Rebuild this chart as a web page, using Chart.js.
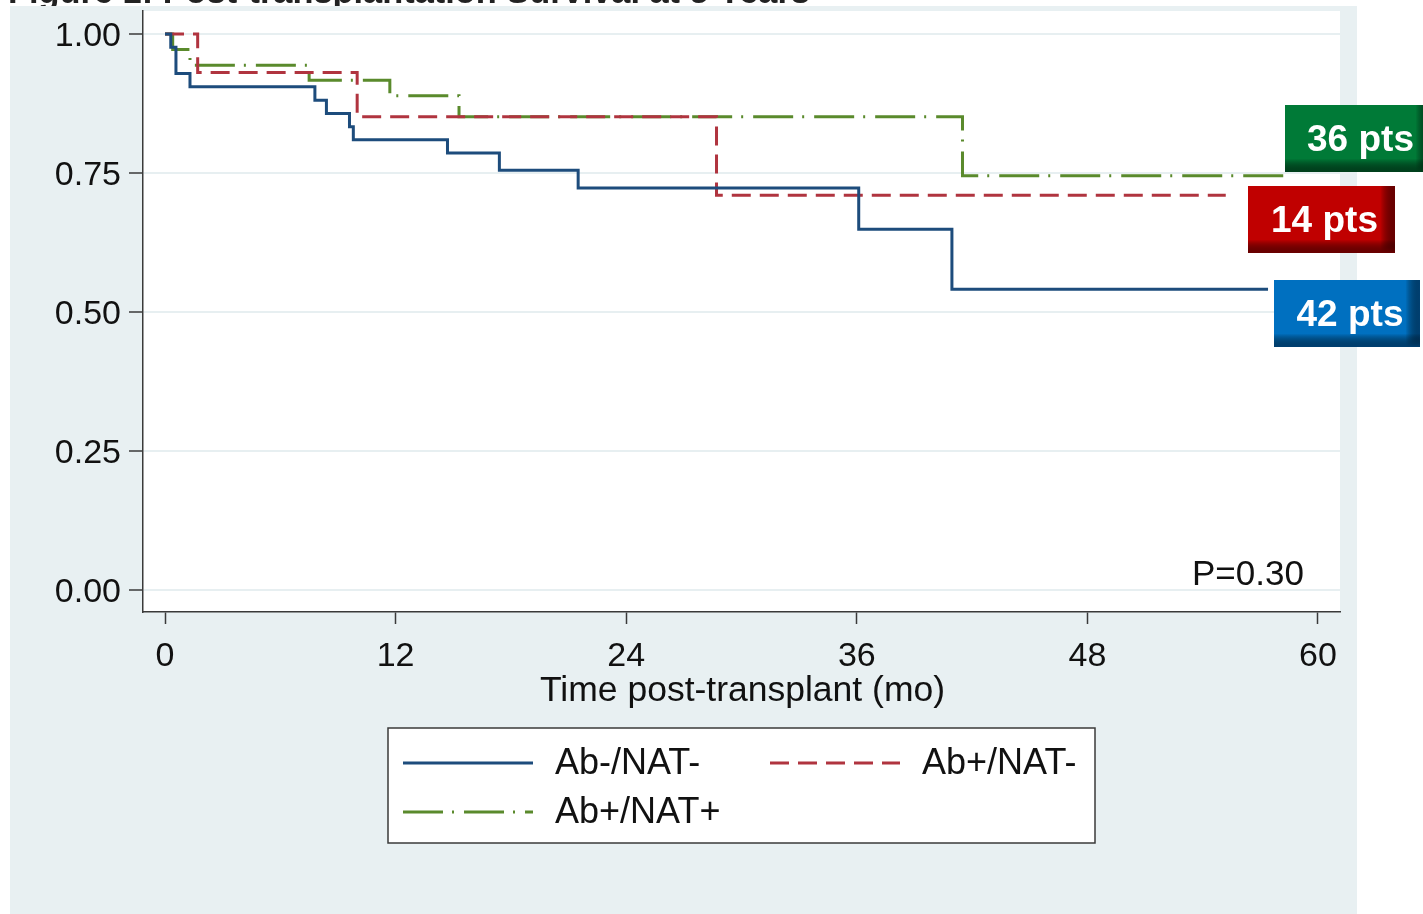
<!DOCTYPE html>
<html>
<head>
<meta charset="utf-8">
<script src="https://cdn.jsdelivr.net/npm/chart.js@4.4.1/dist/chart.umd.min.js"></script>
<style>
  html, body { margin: 0; padding: 0; background: #ffffff; }
  #wrap { width: 1423px; height: 914px; position: relative; }
</style>
</head>
<body>
<div id="wrap"><canvas id="km" width="1423" height="914"></canvas></div>
<script>
// Kaplan-Meier survival estimates by group (time in months, survival fraction)
const groupNames  = ['Ab-/NAT-', 'Ab+/NAT-', 'Ab+/NAT+'];
const groupCounts = [42, 14, 36];

const abNegNatNegTime = [0, 0.3, 0.57, 1.3, 7.8, 8.4, 9.6, 9.8, 14.7, 17.4, 21.5, 36.1, 40.95, 57.4];
const abNegNatNegSurv = [1.0, 0.976, 0.929, 0.905, 0.881, 0.857, 0.833, 0.810, 0.786, 0.755, 0.723, 0.649, 0.541, 0.541];

const abPosNatNegTime = [0, 1.7, 10.0, 28.7, 55.2];
const abPosNatNegSurv = [1.0, 0.931, 0.851, 0.710, 0.710];

const abPosNatPosTime = [0, 0.4, 1.3, 7.5, 11.7, 15.3, 41.5, 58.2];
const abPosNatPosSurv = [1.0, 0.972, 0.944, 0.917, 0.889, 0.851, 0.745, 0.745];

const xTickValues = [0, 12, 24, 36, 48, 60];
const yTickValues = [0, 0.25, 0.50, 0.75, 1.00];

const xAxisTitle  = 'Time post-transplant (mo)';
const pValueLabel = 'P=0.30';
const figureTitle = 'Figure 1: Post-transplantation Survival at 5 Years';

const FONT = "'Liberation Sans', Arial, Helvetica, sans-serif";
const PANEL = '#e8f0f2';
const AXIS = '#3a3a3a';

function toPoints(times, surv) {
  return times.map((t, i) => ({ x: t, y: surv[i] }));
}

const lineStyles = [
  { color: '#1d4c7c', dash: [] },
  { color: '#b0343f', dash: [19, 9] },
  { color: '#5a8a2c', dash: [40, 9, 2, 10] }
];

// Count badges: colour and box for each group
const badgeStyles = [
  { fill: '#0070c0', dark: '#003f70', box: [1274, 280, 146, 67] },
  { fill: '#c00000', dark: '#6a0000', box: [1248, 186, 147, 67] },
  { fill: '#007a37', dark: '#00401c', box: [1285, 105, 145, 67] }
];

const backdrop = {
  id: 'backdrop',
  beforeDraw(chart) {
    const { ctx, chartArea: a } = chart;
    ctx.save();
    ctx.fillStyle = '#ffffff';
    ctx.fillRect(0, 0, chart.width, chart.height);
    // figure caption, mostly cut off by the top edge
    ctx.fillStyle = '#222222';
    ctx.font = 'bold 28px ' + FONT;
    ctx.textBaseline = 'alphabetic';
    ctx.textAlign = 'left';
    const w = ctx.measureText(figureTitle).width;
    const size = 28 * 802 / w;
    ctx.font = 'bold ' + size.toFixed(2) + 'px ' + FONT;
    ctx.fillText(figureTitle, 8, 3);
    // graph region
    ctx.fillStyle = PANEL;
    ctx.fillRect(10, 6, 1347, chart.height - 6);
    // plot region
    ctx.fillStyle = '#ffffff';
    ctx.fillRect(a.left, a.top, a.right - a.left, a.bottom - a.top);
    ctx.restore();
  }
};

function drawSample(ctx, x1, x2, y, style) {
  ctx.save();
  ctx.strokeStyle = style.color;
  ctx.lineWidth = 3;
  ctx.setLineDash(style.dash);
  ctx.beginPath();
  ctx.moveTo(x1, y);
  ctx.lineTo(x2, y);
  ctx.stroke();
  ctx.restore();
}

const annotations = {
  id: 'annotations',
  afterDraw(chart) {
    const { ctx, chartArea: a } = chart;
    ctx.save();

    // x axis title
    ctx.fillStyle = '#111111';
    ctx.font = '35.5px ' + FONT;
    ctx.textAlign = 'center';
    ctx.textBaseline = 'middle';
    ctx.fillText(xAxisTitle, (a.left + a.right) / 2 + 1, 691);

    // p-value
    ctx.font = '35px ' + FONT;
    ctx.textAlign = 'left';
    ctx.fillText(pValueLabel, 1192, 575);

    // legend
    const lx = 388, ly = 728, lw = 707, lh = 115;
    ctx.fillStyle = '#ffffff';
    ctx.fillRect(lx, ly, lw, lh);
    ctx.strokeStyle = AXIS;
    ctx.lineWidth = 1.5;
    ctx.strokeRect(lx, ly, lw, lh);
    const entries = [
      { s: 0, x: 403, y: 763 },
      { s: 1, x: 770, y: 763 },
      { s: 2, x: 403, y: 812 }
    ];
    entries.forEach(e => {
      const ds = chart.data.datasets.find(d => d.label === groupNames[e.s]);
      drawSample(ctx, e.x, e.x + 130, e.y, { color: ds.borderColor, dash: ds.borderDash });
      ctx.fillStyle = '#111111';
      ctx.font = '36px ' + FONT;
      ctx.textAlign = 'left';
      ctx.textBaseline = 'middle';
      ctx.fillText(ds.label, e.x + 152, e.y + 1);
    });

    // group size badges
    badgeStyles.forEach((b, i) => {
      const [bx, by, bw, bh] = b.box;
      ctx.fillStyle = b.fill;
      ctx.fillRect(bx, by, bw, bh);
      let g = ctx.createLinearGradient(bx, 0, bx + bw, 0);
      g.addColorStop(0, 'rgba(0,0,0,0)');
      g.addColorStop(0.9, 'rgba(0,0,0,0)');
      g.addColorStop(1, b.dark);
      ctx.fillStyle = g;
      ctx.fillRect(bx, by, bw, bh);
      g = ctx.createLinearGradient(0, by, 0, by + bh);
      g.addColorStop(0, 'rgba(0,0,0,0)');
      g.addColorStop(0.8, 'rgba(0,0,0,0)');
      g.addColorStop(1, b.dark);
      ctx.fillStyle = g;
      ctx.fillRect(bx, by, bw, bh);
      ctx.fillStyle = '#ffffff';
      ctx.font = 'bold 37px ' + FONT;
      ctx.textAlign = 'center';
      ctx.textBaseline = 'middle';
      ctx.fillText(groupCounts[i] + ' pts', bx + bw / 2 + 3, by + bh / 2 + 2);
    });

    ctx.restore();
  }
};

const tickFont = { family: FONT, size: 34 };

new Chart(document.getElementById('km'), {
  type: 'line',
  data: {
    datasets: [
      { label: groupNames[0], data: toPoints(abNegNatNegTime, abNegNatNegSurv) },
      { label: groupNames[1], data: toPoints(abPosNatNegTime, abPosNatNegSurv) },
      { label: groupNames[2], data: toPoints(abPosNatPosTime, abPosNatPosSurv) }
    ].map((d, i) => Object.assign(d, {
      borderColor: lineStyles[i].color,
      borderDash: lineStyles[i].dash,
      borderWidth: 3,
      stepped: 'before',
      pointRadius: 0,
      fill: false,
      tension: 0
    }))
  },
  options: {
    responsive: false,
    devicePixelRatio: 1,
    animation: false,
    layout: { padding: { left: 0, right: 83, top: 11, bottom: 0 } },
    plugins: { legend: { display: false }, tooltip: { enabled: false } },
    scales: {
      x: {
        type: 'linear',
        min: -1.145,
        max: 61.145,
        afterBuildTicks: s => { s.ticks = xTickValues.map(v => ({ value: v })); },
        afterFit: s => { s.height = 914 - 612; s.paddingLeft = 0; s.paddingRight = 0; },
        grid: { drawOnChartArea: false, drawTicks: true, tickLength: 12, tickColor: AXIS, tickWidth: 1.5 },
        border: { color: AXIS, width: 1.5 },
        ticks: { font: tickFont, color: '#111111', padding: 12, maxRotation: 0, autoSkip: false,
                 callback: v => String(v) }
      },
      y: {
        type: 'linear',
        min: -0.0396,
        max: 1.0414,
        afterBuildTicks: s => { s.ticks = yTickValues.map(v => ({ value: v })); },
        afterFit: s => { s.width = 143; s.paddingTop = 0; s.paddingBottom = 0; },
        grid: { color: '#e7eff1', lineWidth: 2, drawTicks: true, tickLength: 14, tickColor: AXIS, tickWidth: 1.5 },
        border: { color: AXIS, width: 1.5 },
        ticks: { font: tickFont, color: '#111111', padding: 8, labelOffset: 3, autoSkip: false,
                 callback: v => Number(v).toFixed(2) }
      }
    }
  },
  plugins: [backdrop, annotations]
});
</script>
</body>
</html>
